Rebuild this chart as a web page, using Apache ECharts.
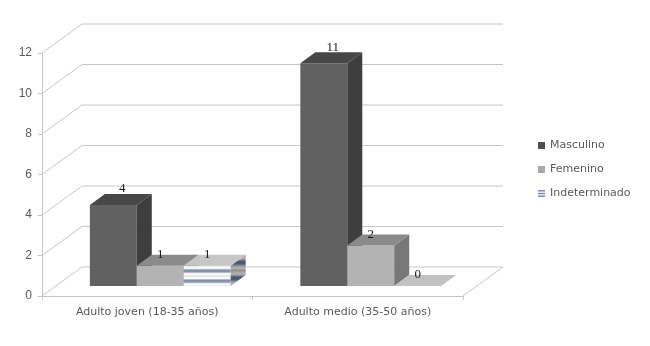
<!DOCTYPE html>
<html>
<head>
<meta charset="utf-8">
<script src="https://cdn.jsdelivr.net/npm/echarts@6/dist/echarts.min.js"></script>
<style>html,body{margin:0;padding:0;background:#fff;}#c{width:650px;height:346px;}</style>
</head>
<body>
<div id="c"></div>
<script>
const categories = ['Adulto joven (18-35 años)', 'Adulto medio (35-50 años)'];
const seriesNames = ['Masculino', 'Femenino', 'Indeterminado'];
const masculino = [4, 11];
const femenino = [1, 2];
const indeterminado = [1, 0];
const yTickValues = [0, 2, 4, 6, 8, 10, 12];

// styles
const DEPTH_X = 40, DEPTH_Y = -29;          // floor depth (oblique projection)
const BAR_OFF_X = 13, BAR_OFF_Y = -10;      // bar front-plane offset into the floor
const BAR_DX = 15, BAR_DY = -11;            // bar depth
const GRID_COLOR = '#c6c6c6';

// stripe gradient for Indeterminado faces
const stripeProfile = [
  [0.00, '#dedede'], [0.12, '#f6f6f6'], [0.25, '#ffffff'], [0.34, '#bcc3d2'],
  [0.44, '#8590a8'], [0.58, '#8792aa'], [0.68, '#bcc3d2'], [0.78, '#f6f6f6'], [0.90, '#ffffff'], [1.00, '#d6d6d6']
];
const stripeProfileDark = [
  [0.00, '#8e8e8e'], [0.12, '#a8a8a8'], [0.25, '#b0b0b0'], [0.34, '#7e8596'],
  [0.44, '#4c566c'], [0.58, '#4e586e'], [0.68, '#7e8596'], [0.78, '#a8a8a8'], [0.90, '#b0b0b0'], [1.00, '#888888']
];
function stripeFill(h, profile) {
  const n = Math.max(1, Math.round(h / 9));
  const stops = [];
  for (let k = 0; k < n; k++) {
    profile.forEach(p => stops.push({ offset: (k + p[0]) / n, color: p[1] }));
  }
  return new echarts.graphic.LinearGradient(0, 0, 0, 1, stops);
}

const faceColors = [
  { front: '#616161', side: '#3e3e3e', top: '#474747' },
  { front: '#b3b3b3', side: '#787878', top: '#8b8b8b' },
  { front: null, side: null, top: '#c6c6c6' }
];

function gridRender(params, api) {
  const cs = params.coordSys;
  const v = api.value(1);
  const y = api.coord([0, v])[1];
  const x0 = cs.x, x1 = cs.x + cs.width;
  const children = [{
    type: 'polyline',
    shape: { points: [[x0, y], [x0 + DEPTH_X, y + DEPTH_Y], [x1 + DEPTH_X, y + DEPTH_Y]] },
    style: { stroke: GRID_COLOR, lineWidth: 1, fill: null }
  }];
  if (v === 0) {
    children.push({
      type: 'line',
      shape: { x1: x1, y1: y, x2: x1 + DEPTH_X, y2: y + DEPTH_Y },
      style: { stroke: GRID_COLOR, lineWidth: 1 }
    });
  }
  return { type: 'group', children: children };
}

function barRender(si) {
  return function (params, api) {
    const ci = api.value(0);
    const v = api.value(1);
    const top = api.coord([ci, v]);
    const base = api.coord([ci, 0]);
    const band = api.size([1, 0])[0];
    const w = band * 0.223;
    const cx = top[0] + BAR_OFF_X + (si - 1) * w;
    const xl = cx - w / 2, xr = cx + w / 2;
    const yb = base[1] + BAR_OFF_Y, yt = top[1] + BAR_OFF_Y;
    const c = faceColors[si];
    const h = yb - yt;
    const children = [];
    if (h > 0.5) {
      const front = si === 2 ? stripeFill(h, stripeProfile) : c.front;
      const side = si === 2 ? stripeFill(h, stripeProfileDark) : c.side;
      children.push({ type: 'rect', shape: { x: xl, y: yt, width: w, height: h }, style: { fill: front } });
      children.push({ type: 'polygon', shape: { points: [[xr, yt], [xr + BAR_DX, yt + BAR_DY], [xr + BAR_DX, yb + BAR_DY], [xr, yb]] }, style: { fill: side } });
    }
    children.push({ type: 'polygon', shape: { points: [[xl, yt], [xr, yt], [xr + BAR_DX, yt + BAR_DY], [xl + BAR_DX, yt + BAR_DY]] }, style: { fill: si === 2 && v === 0 ? '#c2c2c2' : c.top } });
    const lx = cx + (si === 0 ? 9 : 0);
    const ly = yt + BAR_DY - (si === 0 ? 5 : 0);
    children.push({ type: 'text', style: { text: String(v), x: lx, y: ly, align: 'center', verticalAlign: 'middle', fill: '#1a1a1a', font: '13px "Liberation Serif"' }, z2: 10 });
    return { type: 'group', children: children };
  };
}

const dataFor = [masculino, femenino, indeterminado];

const chart = echarts.init(document.getElementById('c'), null, { renderer: 'canvas' });
chart.setOption({
  animation: false,
  backgroundColor: '#ffffff',
  grid: { left: 42, top: 53, width: 421, bottom: 50 },
  legend: {
    orient: 'vertical',
    left: 533, top: 135,
    itemWidth: 7, itemHeight: 7, itemGap: 13,
    textStyle: { color: '#595959', fontSize: 11, fontFamily: 'DejaVu Sans' },
    data: [
      { name: 'Masculino', icon: 'rect', itemStyle: { color: '#505050' } },
      { name: 'Femenino', icon: 'rect', itemStyle: { color: '#a8a8a8' } },
      { name: 'Indeterminado', icon: 'path://M0,0H10V2H0Z M0,4H10V6H0Z M0,8H10V10H0Z', itemStyle: { color: '#7d8aa8' } }
    ]
  },
  xAxis: {
    type: 'category',
    data: categories,
    axisLine: { lineStyle: { color: GRID_COLOR } },
    axisTick: { show: true, length: 4, lineStyle: { color: GRID_COLOR } },
    axisLabel: { color: '#595959', fontSize: 11, fontFamily: 'DejaVu Sans', margin: 11 },
    splitLine: { show: false }
  },
  yAxis: {
    type: 'value',
    min: 0, max: 12, interval: 2,
    axisLine: { show: true, lineStyle: { color: GRID_COLOR } },
    axisTick: { show: true, length: 4, lineStyle: { color: GRID_COLOR } },
    axisLabel: { color: '#595959', fontSize: 12, fontFamily: 'Liberation Sans', margin: 10 },
    splitLine: { show: false }
  },
  series: [
    {
      type: 'custom', name: 'grid3d', silent: true, z: 1,
      renderItem: gridRender,
      data: yTickValues.map(v => [0, v])
    }
  ].concat(seriesNames.map((name, si) => ({
    type: 'custom', name: name, z: 2 + si,
    itemStyle: { color: ['#505050', '#a8a8a8', '#7d8aa8'][si] },
    renderItem: barRender(si),
    data: dataFor[si].map((v, ci) => [ci, v])
  })))
});
</script>
</body>
</html>
